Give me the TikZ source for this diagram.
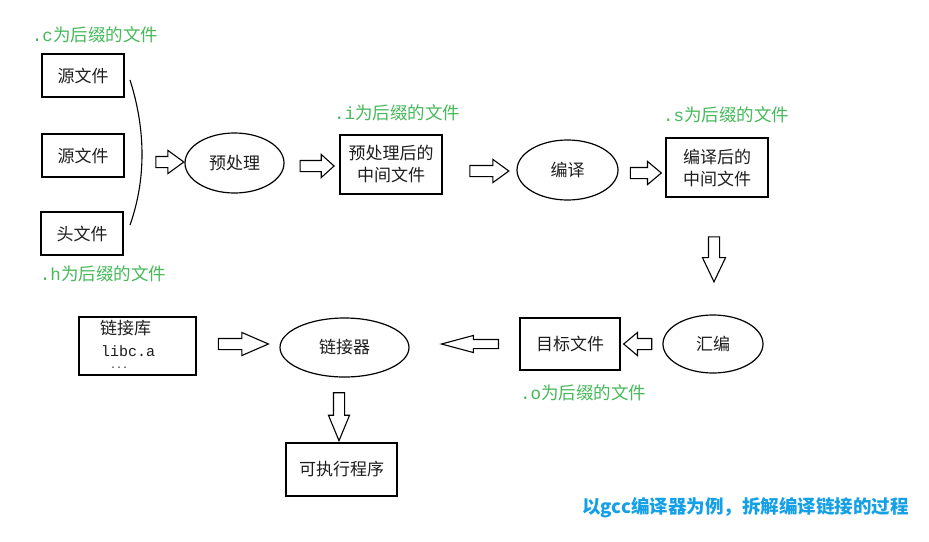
\documentclass[tikz,border=0pt]{standalone}
\usepackage{fontspec}
\setmonofont{Liberation Mono}
\newfontfamily\cjk{Noto Sans CJK SC}
\usetikzlibrary{shapes.geometric,shapes.arrows}
\definecolor{lblgreen}{RGB}{70,185,90}
\definecolor{ttlblue}{RGB}{20,160,230}
\definecolor{inkc}{RGB}{30,30,30}
\begin{document}
\begin{tikzpicture}[x=1pt,y=-1pt,
  box/.style={draw=black, line width=1.2pt, inner sep=0pt, text=inkc, font=\cjk\fontsize{17}{22}\selectfont, align=center},
  oval/.style={ellipse, draw=black, line width=1.2pt, inner sep=0pt, text=inkc, font=\cjk\fontsize{17}{20}\selectfont},
  lbl/.style={text=lblgreen, inner sep=0pt, font=\cjk\fontsize{17.5}{20}\selectfont},
  txt/.style={text=inkc, inner sep=0pt, anchor=west},
  barrow/.style={single arrow, draw=black, line width=1.1pt, inner sep=5pt, minimum width=22pt,
    single arrow head extend=6pt, single arrow head indent=0pt}
]
\fill[white] (0,0) rectangle (929,541);
\useasboundingbox (0,0) rectangle (929,541);

% source boxes
\node[box, minimum width=82pt, minimum height=43pt] (src1) at (83,75.5) {源文件};
\node[box, minimum width=82pt, minimum height=43pt] (src2) at (83,155.5) {源文件};
\node[box, minimum width=82pt, minimum height=43pt] (hdr) at (82,233.5) {头文件};
\node[lbl] (lc) at (95,35) {{\ttfamily .c}为后缀的文件};
\node[lbl] (lh) at (103,274) {{\ttfamily .h}为后缀的文件};

% gathering curve
\coordinate (ct) at (130,80);
\coordinate (cb) at (130,225);
\draw[line width=1.1pt] (ct) .. controls (146,130) and (146,180) .. (cb);

% preprocessing
\node[barrow, minimum height=28pt, single arrow tip angle=72] (a1) at (166,162) {};
\node[oval, minimum width=99pt, minimum height=60pt] (pre) at (234.5,163) {预处理};
\node[barrow, minimum height=34pt, single arrow tip angle=84] (a2) at (314,166) {};
\node[box, minimum width=102pt, minimum height=59pt] (prei) at (391,164.5) {预处理后的\\中间文件};
\node[lbl] (li) at (397,113) {{\ttfamily .i}为后缀的文件};

% compile
\node[barrow, minimum height=39pt, single arrow tip angle=72] (a3) at (485.5,171) {};
\node[oval, minimum width=101pt, minimum height=60pt] (comp) at (567.5,170) {编译};
\node[barrow, minimum height=31pt, single arrow tip angle=80] (a4) at (642.5,173) {};
\node[box, minimum width=102pt, minimum height=59pt] (comps) at (717,167.5) {编译后的\\中间文件};
\node[lbl] (ls) at (726,115) {{\ttfamily .s}为后缀的文件};

% assemble
\node[barrow, minimum height=45pt, single arrow tip angle=51, shape border rotate=270] (a5) at (714,253.5) {};
\node[oval, minimum width=100pt, minimum height=58pt] (asm) at (713,344) {汇编};
\node[barrow, minimum height=28pt, single arrow tip angle=80, shape border rotate=180] (a6) at (641,344) {};
\node[box, minimum width=100pt, minimum height=52pt] (obj) at (570,344) {目标文件};
\node[lbl] (lo) at (583,393) {{\ttfamily .o}为后缀的文件};

% link
\node[barrow, minimum height=57pt, single arrow tip angle=30, inner sep=4pt, minimum width=16pt, single arrow head extend=4pt, shape border rotate=180] (a7) at (478.5,344) {};
\node[oval, minimum width=129pt, minimum height=59pt] (lnk) at (344.5,347.5) {链接器};
\node[barrow, minimum height=50pt, single arrow tip angle=47] (a8) at (237,344) {};
\node[box, minimum width=117pt, minimum height=58pt] (lib) at (137.5,346) {};
\node[txt, font=\cjk\fontsize{17}{20}\selectfont] (lib1) at (100,328) {链接库};
\node[txt, font=\ttfamily\fontsize{15}{18}\selectfont] (lib2) at (101,351) {libc.a};
\node[txt, font=\ttfamily\fontsize{10}{12}\selectfont] (lib3) at (110,368) {...};

% executable
\node[barrow, minimum height=48pt, single arrow tip angle=45, inner sep=5pt, minimum width=20pt, single arrow head extend=5pt, shape border rotate=270] (a9) at (339,410) {};
\node[box, minimum width=111pt, minimum height=53pt] (exe) at (341.5,469.5) {可执行程序};

% title
\node[text=ttlblue, inner sep=0pt, font=\cjk\bfseries\fontsize{18.5}{21}\selectfont] (ttl) at (745.5,508) {以gcc编译器为例，拆解编译链接的过程};
\end{tikzpicture}
\end{document}
